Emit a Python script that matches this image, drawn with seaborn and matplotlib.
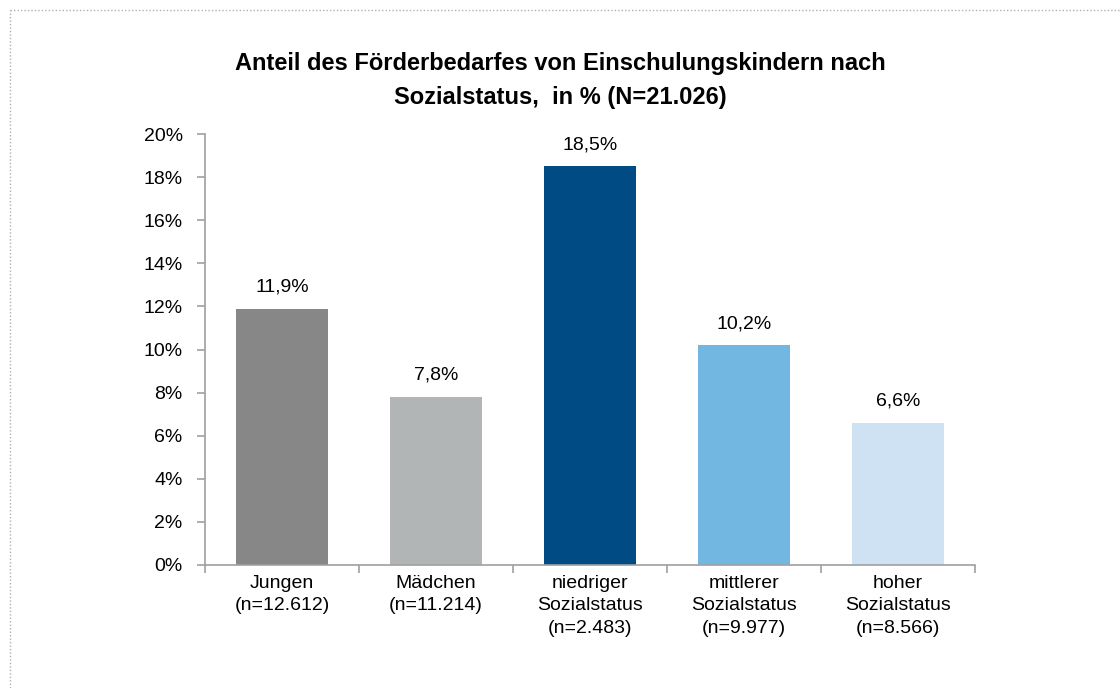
import matplotlib.pyplot as plt
import seaborn as sns
import pandas as pd
from matplotlib.lines import Line2D

sns.set_theme(style="white")
plt.rcParams['font.family'] = ['Liberation Sans', 'DejaVu Sans']
plt.rcParams['text.color'] = "black"
plt.rcParams['xtick.color'] = "black"
plt.rcParams['ytick.color'] = "black"

# Daten
kategorien = ["Jungen\n(n=12.612)", "Mädchen\n(n=11.214)", "niedriger\nSozialstatus\n(n=2.483)",
              "mittlerer\nSozialstatus\n(n=9.977)", "hoher\nSozialstatus\n(n=8.566)"]
anteil = [11.9, 7.8, 18.5, 10.2, 6.6]
farben = ["#878787", "#b2b5b5", "#004b84", "#72b7e2", "#cfe2f3"]
y_ticks = [0, 2, 4, 6, 8, 10, 12, 14, 16, 18, 20]

df = pd.DataFrame({"kategorie": kategorien, "anteil": anteil})

fig = plt.figure(figsize=(11.2, 6.88), dpi=100)
ax = fig.add_axes([0.183, 0.179, 0.6875, 0.626])

sns.barplot(data=df, x="kategorie", y="anteil", hue="kategorie", palette=farben,
            width=0.6, legend=False, ax=ax, saturation=1, linewidth=0)

for i, v in enumerate(anteil):
    ax.text(i, v + 0.6, f"{v:.1f}%".replace(".", ","), ha="center", va="bottom", fontsize=14)

ax.set_xlim(-0.5, 4.5)
ax.set_ylim(0, 20)
ax.set_yticks(y_ticks)
ax.set_yticklabels([f"{t}%" for t in y_ticks], fontsize=14)
ax.set_xticks(range(len(kategorien)))
ax.set_xticklabels(kategorien, fontsize=14, linespacing=1.45)
ax.set_xticks([i - 0.5 for i in range(len(kategorien) + 1)], minor=True)
ax.tick_params(axis="x", which="major", length=0, pad=7)
ax.tick_params(axis="x", which="minor", length=6, color="#a0a0a0", width=1.2, direction="out", bottom=True)
ax.tick_params(axis="y", length=6, color="#a0a0a0", width=1.2, direction="out", left=True, pad=10)
ax.set_xlabel("")
ax.set_ylabel("")

for s in ["top", "right"]:
    ax.spines[s].set_visible(False)
for s in ["left", "bottom"]:
    ax.spines[s].set_color("#a0a0a0")
    ax.spines[s].set_linewidth(1.2)

fig.suptitle("Anteil des Förderbedarfes von Einschulungskindern nach\nSozialstatus,  in % (N=21.026)",
             x=0.5, y=0.924, fontsize=17, fontweight="bold", linespacing=1.6)

# gepunkteter Rahmen oben und links
fig.add_artist(Line2D([0.009, 1.0], [0.986, 0.986], transform=fig.transFigure,
                      color="#b0b0b0", linestyle=(0, (1, 1.5)), linewidth=1))
fig.add_artist(Line2D([0.009, 0.009], [0.0, 0.986], transform=fig.transFigure,
                      color="#b0b0b0", linestyle=(0, (1, 1.5)), linewidth=1))

plt.savefig("out.png", dpi=100)
plt.close()
